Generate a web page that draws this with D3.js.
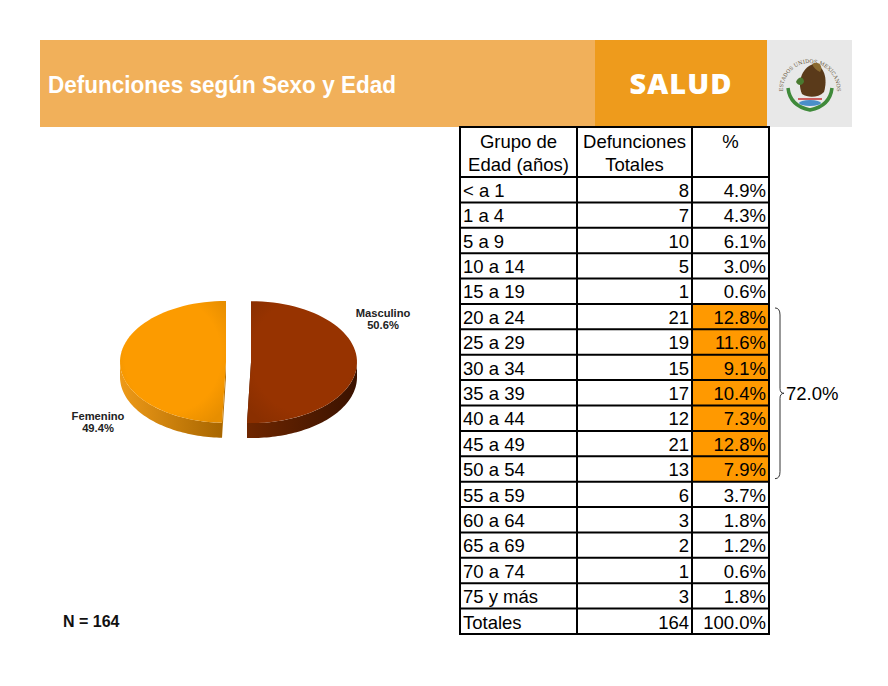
<!DOCTYPE html>
<html lang="es">
<head>
  <meta charset="UTF-8" />
  <title>Defunciones según Sexo y Edad</title>
  <script src="https://d3js.org/d3.v7.min.js"></script>
  <style>
    body { margin: 0; background: #fff; }
    svg { display: block; }
    text { font-family: Arial, 'Liberation Sans', sans-serif; }
  </style>
</head>
<body>
  <svg width="888" height="686"></svg>
  <script>
    // --- datos ---
    const sexos = ["Masculino", "Femenino"];
    const sexoPct = [50.6, 49.4];

    const grupos = ["< a 1", "1 a 4", "5 a 9", "10 a 14", "15 a 19", "20 a 24", "25 a 29",
      "30 a 34", "35 a 39", "40 a 44", "45 a 49", "50 a 54", "55 a 59", "60 a 64",
      "65 a 69", "70 a 74", "75 y más"];
    const defunciones = [8, 7, 10, 5, 1, 21, 19, 15, 17, 12, 21, 13, 6, 3, 2, 1, 3];
    const porcentajes = [4.9, 4.3, 6.1, 3.0, 0.6, 12.8, 11.6, 9.1, 10.4, 7.3, 12.8, 7.9, 3.7, 1.8, 1.2, 0.6, 1.8];
    const totalDef = 164;
    const totalPct = 100.0;
    const destacados = ["20 a 24", "25 a 29", "30 a 34", "35 a 39", "40 a 44", "45 a 49", "50 a 54"];
    const sumaDestacada = 72.0;
    const nTotal = 164;

    const svg = d3.select("svg");
    const pct = v => d3.format(".1f")(v) + "%";

    // --- encabezado ---
    svg.append("rect").attr("x", 40).attr("y", 40).attr("width", 555).attr("height", 87).attr("fill", "#f1b05a");
    svg.append("rect").attr("x", 595).attr("y", 40).attr("width", 172).attr("height", 87).attr("fill", "#ee9b1c");
    svg.append("rect").attr("x", 767).attr("y", 40).attr("width", 85).attr("height", 87).attr("fill", "#e8e8e8");

    svg.append("text").attr("x", 48).attr("y", 93)
      .attr("fill", "#fff").attr("font-size", 24).attr("font-weight", "bold")
      .attr("textLength", 348).attr("lengthAdjust", "spacingAndGlyphs")
      .text("Defunciones según Sexo y Edad");
    svg.append("text").attr("x", 681).attr("y", 94).attr("text-anchor", "middle")
      .attr("fill", "#fff").attr("font-size", 29).attr("font-weight", 800)
      .attr("letter-spacing", 1)
      .style("font-family", "'Open Sans', sans-serif")
      .text("SALUD");

    // escudo (aproximado)
    const seal = svg.append("g").attr("transform", "translate(810,84)");
    seal.append("path").attr("id", "sealArc")
      .attr("d", "M -27,6 A 27,27 0 1,1 27,6").attr("fill", "none");
    seal.append("text").attr("font-size", 5.2).attr("fill", "#6a5a40")
      .style("font-family", "'DejaVu Serif', serif")
      .append("textPath").attr("href", "#sealArc").attr("startOffset", "50%").attr("text-anchor", "middle")
      .text("ESTADOS UNIDOS MEXICANOS");
    seal.append("path").attr("d", "M -8,10 C -14,-4 -6,-18 4,-20 C 14,-18 18,-6 14,8 C 8,14 -2,14 -8,10 Z")
      .attr("fill", "#5a3a1a");
    seal.append("path").attr("d", "M 2,-20 C 8,-24 14,-18 10,-12 C 6,-14 4,-16 2,-20 Z").attr("fill", "#8a6a30");
    seal.append("path").attr("d", "M -14,-2 C -12,-8 -6,-8 -6,-2 C -8,2 -12,2 -14,-2 Z").attr("fill", "#4a7a30");
    seal.append("path").attr("d", "M -22,4 Q -20,22 0,26 Q 20,22 22,4").attr("fill", "none")
      .attr("stroke", "#3f8a3a").attr("stroke-width", 3.5);
    seal.append("ellipse").attr("cx", 0).attr("cy", 19).attr("rx", 11).attr("ry", 3).attr("fill", "#4a8fc8");
    seal.append("path").attr("d", "M -12,15 L 12,15").attr("stroke", "#c03030").attr("stroke-width", 1.5);

    // --- pastel 3D ---
    const cx = 238.5, cy = 362, r = 106, k = 0.575, depth = 15, explode = 12.5;
    const pieData = d3.pie().sort(null).startAngle(0).endAngle(2 * Math.PI)(sexoPct);
    const topCol = ["#973300", "#fc9b00"];
    const sideL = ["#6e2600", "#ee9a18"];
    const sideR = ["#3a1200", "#a86600"];
    const cutCol = ["#4a1a00", "#b87000"];

    const defs = svg.append("defs");
    sexos.forEach((s, i) => {
      const g = defs.append("linearGradient").attr("id", "side" + i)
        .attr("x1", "0%").attr("x2", "100%").attr("y1", "0%").attr("y2", "0%");
      g.append("stop").attr("offset", "0%").attr("stop-color", sideL[i]);
      g.append("stop").attr("offset", "100%").attr("stop-color", sideR[i]);
      const rg = defs.append("radialGradient").attr("id", "top" + i)
        .attr("cx", "50%").attr("cy", "45%").attr("r", "65%");
      rg.append("stop").attr("offset", "70%").attr("stop-color", topCol[i]);
      rg.append("stop").attr("offset", "100%").attr("stop-color", d3.color(topCol[i]).darker(0.25));
    });

    const pieG = svg.append("g");
    const line = d3.line();
    const proj = (a, rr, ox, oy, dz) => [cx + ox + rr * Math.sin(a), cy + oy - rr * Math.cos(a) * k + dz];
    const arcPts = (a0, a1, ox, oy, dz) => d3.range(0, 61).map(j => proj(a0 + (a1 - a0) * j / 60, r, ox, oy, dz));

    const slices = pieData.map((d, i) => {
      const mid = (d.startAngle + d.endAngle) / 2;
      return { d, i, ox: explode * Math.sin(mid), oy: -explode * Math.cos(mid) * k };
    });

    // caras laterales
    slices.forEach(({ d, i, ox, oy }) => {
      const c = [cx + ox, cy + oy];
      [d.startAngle, d.endAngle].forEach(a => {
        const p = proj(a, r, ox, oy, 0);
        pieG.append("path")
          .attr("d", line([c, p, [p[0], p[1] + depth], [c[0], c[1] + depth]]) + "Z")
          .attr("fill", cutCol[i]);
      });
      const s = Math.max(d.startAngle, Math.PI / 2), e = Math.min(d.endAngle, 3 * Math.PI / 2);
      if (e > s) {
        const pts = arcPts(s, e, ox, oy, 0).concat(arcPts(e, s, ox, oy, depth));
        pieG.append("path").attr("d", line(pts) + "Z").attr("fill", `url(#side${i})`);
      }
    });
    // caras superiores
    slices.forEach(({ d, i, ox, oy }) => {
      const pts = [[cx + ox, cy + oy]].concat(arcPts(d.startAngle, d.endAngle, ox, oy, 0));
      pieG.append("path").attr("d", line(pts) + "Z").attr("fill", `url(#top${i})`);
    });

    // etiquetas
    const labelPos = [[383, 317], [98, 420]];
    sexos.forEach((s, i) => {
      const t = svg.append("text").attr("text-anchor", "middle").attr("font-size", 11.2)
        .attr("font-weight", "bold").attr("fill", "#222");
      t.append("tspan").attr("x", labelPos[i][0]).attr("y", labelPos[i][1]).text(s);
      t.append("tspan").attr("x", labelPos[i][0]).attr("y", labelPos[i][1] + 12).text(pct(sexoPct[i]));
    });

    svg.append("text").attr("x", 63).attr("y", 627).attr("font-size", 16).attr("font-weight", "bold")
      .attr("fill", "#111").text("N = " + nTotal);

    // --- tabla ---
    const filas = grupos.concat(["Totales"]);
    const valDef = defunciones.concat([totalDef]);
    const valPct = porcentajes.concat([totalPct]);
    const colX = [460, 577, 692, 769];
    const tableTop = 127, headBottom = 177;
    const y = d3.scaleBand().domain(filas).range([headBottom, 634]).padding(0);
    const fs = 18.5;
    const tbl = svg.append("g");

    tbl.selectAll("rect.hl").data(destacados).join("rect").attr("class", "hl")
      .attr("x", colX[2]).attr("y", d => y(d)).attr("width", colX[3] - colX[2]).attr("height", y.bandwidth())
      .attr("fill", "#ff9900");

    const head = [["Grupo de", "Edad (años)"], ["Defunciones", "Totales"], ["%"]];
    head.forEach((lines, c) => {
      lines.forEach((t, j) => {
        tbl.append("text").attr("x", (colX[c] + colX[c + 1]) / 2).attr("y", 148 + j * 23)
          .attr("text-anchor", "middle").attr("font-size", fs).attr("fill", "#000").text(t);
      });
    });

    const rowG = tbl.selectAll("g.row").data(filas).join("g").attr("class", "row")
      .attr("transform", d => `translate(0,${y(d) + y.bandwidth() - 5.5})`);
    rowG.append("text").attr("x", colX[0] + 3).attr("font-size", fs).text(d => d);
    rowG.append("text").attr("x", colX[2] - 3).attr("text-anchor", "end").attr("font-size", fs)
      .text((d, i) => valDef[i]);
    rowG.append("text").attr("x", colX[3] - 3).attr("text-anchor", "end").attr("font-size", fs)
      .text((d, i) => pct(valPct[i]));

    const hLines = [tableTop, headBottom].concat(filas.map(d => y(d) + y.bandwidth()));
    tbl.selectAll("line.h").data(hLines).join("line").attr("class", "h")
      .attr("x1", colX[0] - 1).attr("x2", colX[3] + 1).attr("y1", d => d).attr("y2", d => d)
      .attr("stroke", "#000").attr("stroke-width", 2);
    tbl.selectAll("line.v").data(colX).join("line").attr("class", "v")
      .attr("x1", d => d).attr("x2", d => d).attr("y1", tableTop).attr("y2", 634)
      .attr("stroke", "#000").attr("stroke-width", 2);

    // llave y suma
    const bTop = y(destacados[0]) + 4;
    const bBot = y(destacados[destacados.length - 1]) + y.bandwidth() - 3;
    const bMid = (bTop + bBot) / 2;
    const x0 = 775, x1 = 780, x2 = 784;
    svg.append("path")
      .attr("d", `M${x0},${bTop} Q${x1},${bTop} ${x1},${bTop + 7} L${x1},${bMid - 5} Q${x1},${bMid} ${x2},${bMid} Q${x1},${bMid} ${x1},${bMid + 5} L${x1},${bBot - 7} Q${x1},${bBot} ${x0},${bBot}`)
      .attr("fill", "none").attr("stroke", "#333").attr("stroke-width", 1);
    svg.append("text").attr("x", 786).attr("y", bMid + 7).attr("font-size", fs).text(pct(sumaDestacada));
  </script>
</body>
</html>
